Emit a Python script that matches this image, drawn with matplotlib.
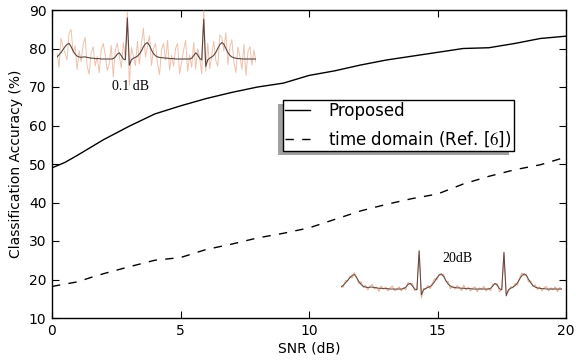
import matplotlib
matplotlib.use("Agg")
from matplotlib import pyplot as plt
from matplotlib.patches import Rectangle
from matplotlib.transforms import IdentityTransform
import numpy as np

# accuracy curves
snr = [0, 0.5, 1, 1.5, 2, 3, 4, 5, 6, 7, 8, 9, 10, 11, 12, 13, 14, 15, 16, 17, 18, 19, 20]
acc_proposed = [49.0, 50.4, 52.3, 54.3, 56.3, 59.8, 63.0, 65.1, 67.0, 68.6, 70.0, 71.0, 73.0,
                74.2, 75.7, 77.0, 78.0, 79.0, 80.0, 80.2, 81.3, 82.6, 83.2]
acc_time = [18.2, 18.8, 19.4, 20.5, 21.5, 23.3, 25.0, 25.7, 27.8, 29.2, 30.8, 32.0, 33.4,
            35.6, 37.8, 39.5, 41.0, 42.2, 44.8, 46.8, 48.5, 49.8, 51.8]

# ECG segment shown in both insets (amplitude, R peak ~ 1)
ecg_clean = [0.05, 0.10, 0.16, 0.23, 0.30, 0.36, 0.38, 0.30, 0.20, 0.12,
             0.07, 0.05, 0.04, 0.05, 0.05, 0.04, 0.03, 0.02, 0.02, 0.01,
             0.01, 0.01, 0.00, 0.00, 0.00, 0.00, 0.00, 0.00, 0.01, 0.05,
             0.12, 0.15, 0.08, 0.00, -0.02, 1.00, -0.15, -0.02, 0.02, 0.04,
             0.07, 0.12, 0.20, 0.30, 0.37, 0.40, 0.33, 0.22, 0.13, 0.08,
             0.05, 0.04, 0.03, 0.03, 0.02, 0.02, 0.01, 0.01, 0.01, 0.00,
             0.00, 0.00, 0.00, 0.00, 0.00, 0.00, 0.00, 0.02, 0.08, 0.15,
             0.10, 0.01, -0.02, 0.97, -0.18, -0.02, 0.02, 0.05, 0.09, 0.16,
             0.26, 0.35, 0.40, 0.36, 0.26, 0.16, 0.09, 0.05, 0.03, 0.02,
             0.01, 0.01, 0.00, 0.00, 0.00, 0.00, 0.00, 0.00, 0.00, 0.00]
noise_01db = [0.10, -0.30, 0.35, 0.05, -0.15, -0.38, 0.25, 0.42, -0.05, 0.20,
              -0.33, 0.15, -0.10, 0.30, 0.48, -0.22, -0.40, 0.12, 0.28, -0.18,
              0.05, -0.35, 0.22, 0.38, 0.10, -0.28, -0.12, 0.33, -0.45, 0.18,
              0.26, -0.08, -0.30, 0.40, 0.02, 0.15, -0.50, 0.30, 0.05, -0.20,
              0.36, -0.25, 0.18, 0.45, -0.32, -0.10, 0.24, -0.38, 0.12, 0.30,
              -0.15, -0.42, 0.20, 0.35, -0.05, 0.44, -0.28, 0.08, -0.18, 0.26,
              0.38, -0.36, -0.08, 0.22, 0.46, -0.30, 0.10, -0.22, 0.32, -0.40,
              0.15, 0.02, -0.34, 0.28, -0.12, 0.40, -0.26, 0.06, 0.34, -0.20,
              -0.44, 0.24, 0.12, -0.16, 0.38, -0.30, 0.20, 0.42, -0.10, -0.35,
              0.28, 0.05, -0.25, 0.36, -0.40, 0.18, 0.30, -0.15, 0.22, -0.08]
noise_20db = [0.03, -0.05, 0.06, -0.02, 0.04, -0.07, 0.05, 0.01, -0.06, 0.07,
              -0.03, 0.05, -0.06, 0.02, 0.07, -0.04, 0.02, -0.08, 0.06, -0.01,
              0.04, -0.06, 0.03, 0.08, -0.04, -0.02, 0.06, -0.05, 0.03, -0.07,
              0.05, -0.03, 0.07, -0.04, 0.01, 0.02, -0.08, 0.04, -0.03, 0.06,
              -0.06, 0.04, 0.07, -0.06, 0.02, -0.04, 0.05, -0.02, 0.07, -0.07,
              0.03, -0.04, 0.06, 0.01, -0.06, 0.08, -0.03, 0.04, -0.06, 0.02,
              0.06, -0.07, 0.03, -0.01, 0.07, -0.05, 0.02, -0.06, 0.05, -0.02,
              0.04, -0.08, 0.01, -0.04, 0.07, -0.05, 0.04, -0.02, 0.06, -0.06,
              0.02, 0.07, -0.04, 0.03, -0.07, 0.05, -0.02, 0.06, -0.04, 0.04,
              -0.06, 0.02, 0.07, -0.05, 0.03, -0.02, 0.06, -0.07, 0.04, -0.01]

plt.rcParams['font.size'] = 10
plt.rcParams['axes.linewidth'] = 1.0
plt.rcParams['mathtext.fontset'] = 'stix'

fig = plt.figure(figsize=(5.76, 3.6), dpi=100)
ax = fig.add_axes([52/576, 1 - 318/360, 514/576, 308/360])

ax.plot(snr, acc_proposed, color='black', lw=1.0, label='Proposed')
ax.plot(snr, acc_time, color='black', lw=1.0, dashes=(6, 6), label=r'time domain (Ref. [$6$])')
ax.set_xlim(0, 20)
ax.set_ylim(10, 90)
ax.set_xticks([0, 5, 10, 15, 20])
ax.set_yticks(range(10, 91, 10))
ax.tick_params(direction='in', length=5, top=True, right=True, pad=4)
ax.set_xlabel('SNR (dB)', labelpad=3)
ax.set_ylabel('Classification Accuracy (%)', labelpad=4)

leg = ax.legend(loc='upper left', bbox_to_anchor=(0.449, 0.708), borderaxespad=0,
                fontsize=12, handlelength=1.5, handletextpad=1.1, borderpad=0.12,
                labelspacing=0.6, fancybox=False, framealpha=1)
leg.get_frame().set_edgecolor('black')
leg.get_frame().set_linewidth(1.0)
leg.set_zorder(5)

# ECG insets
idx = np.arange(len(ecg_clean))
clean = np.array(ecg_clean)

ax1 = fig.add_axes([57/576, 1 - 90/360, 199/576, 80/360])
ax1.plot(idx, clean + np.array(noise_01db), color='#e08e68', lw=0.7, alpha=0.55)
ax1.plot(idx, clean, color='#5a4540', lw=0.8)
ax1.set_xlim(0, 99)
ax1.set_ylim(-0.756, 1.195)
ax1.axis('off')

ax2 = fig.add_axes([341/576, 1 - 305/360, 221/576, 65/360])
ax2.plot(idx, clean + np.array(noise_20db), color='#e08e68', lw=0.8, alpha=0.7)
ax2.plot(idx, clean, color='#5a4540', lw=0.7)
ax2.set_xlim(0, 99)
ax2.set_ylim(-0.42, 1.29)
ax2.axis('off')

fig.text(130/576, 1 - 87/360, '0.1 dB', family='Liberation Serif', fontsize=10,
         ha='center', va='center')
fig.text(457/576, 1 - 258/360, '20dB', family='Liberation Serif', fontsize=10,
         ha='center', va='center')

# legend shadow offset to the lower left
fig.canvas.draw()
bb = leg.get_window_extent()
shadow = Rectangle((bb.x0 - 5, bb.y0 - 4), bb.width, bb.height, transform=IdentityTransform(),
                   facecolor='#a0a0a0', edgecolor='none', zorder=4.5, clip_on=False)
ax.add_patch(shadow)

fig.savefig('out.png', dpi=100)
